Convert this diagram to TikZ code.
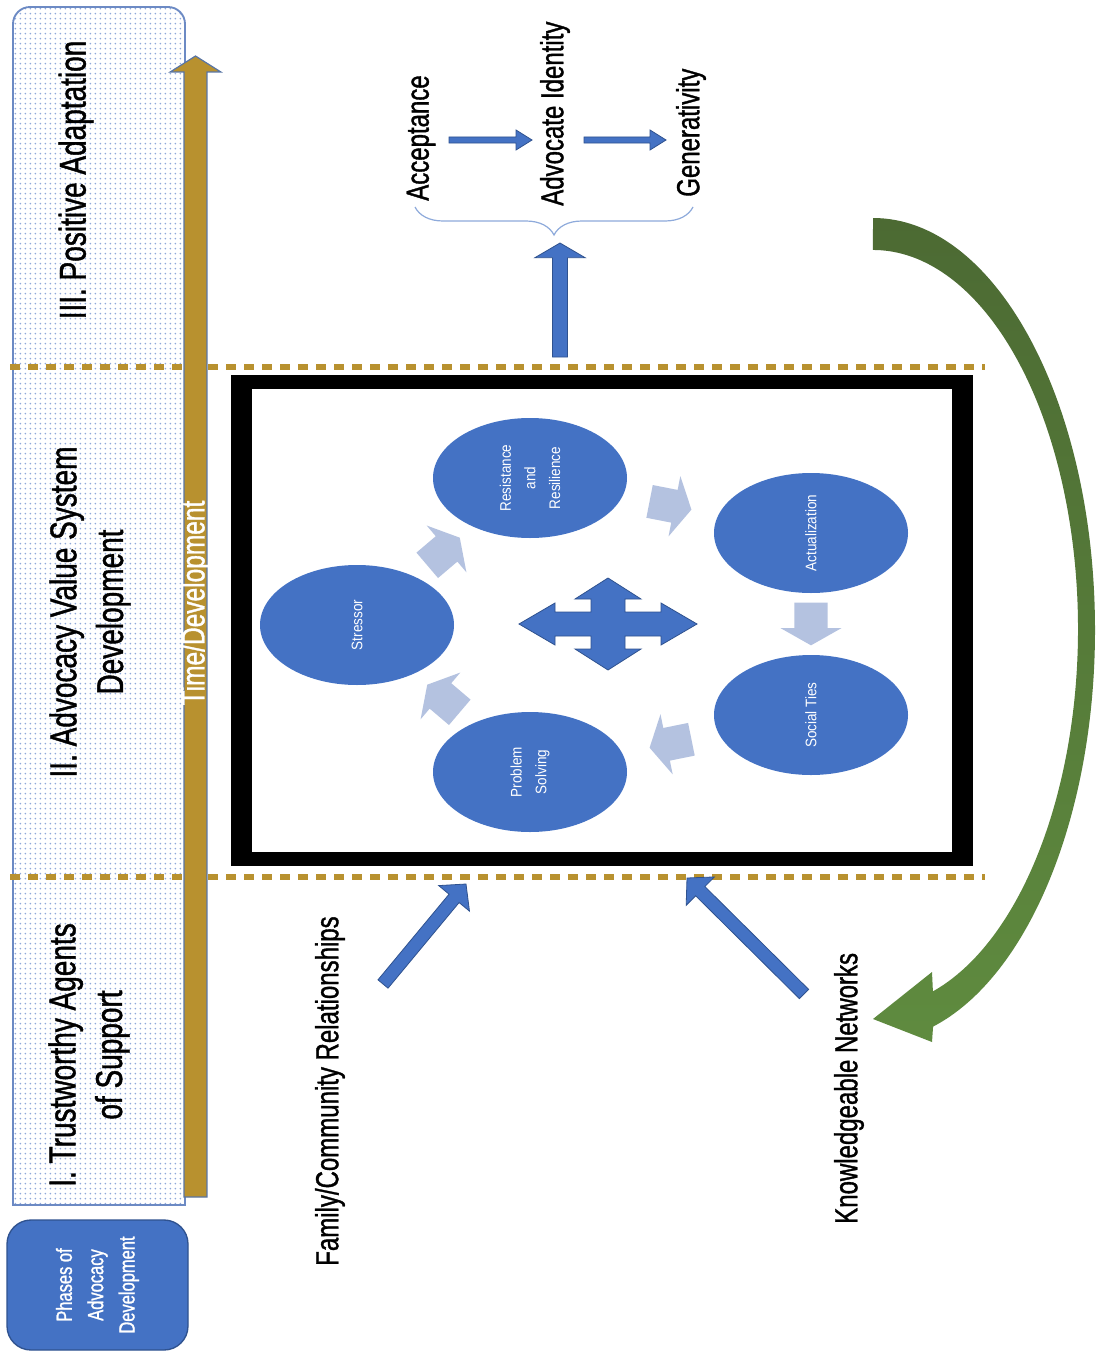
\documentclass[tikz,border=0pt]{standalone}
\usepackage{fontspec}
\setmainfont{Liberation Sans}
\newfontfamily\condfont[FakeStretch=0.75, FakeBold=1.1]{Liberation Sans}
\newfontfamily\cyclefont[FakeStretch=0.88]{Liberation Sans}
\usetikzlibrary{arrows.meta, shapes.geometric, calc, decorations.pathreplacing, patterns.meta}

\definecolor{nodeblue}{HTML}{4472C4}
\definecolor{edgeblue}{HTML}{2F528F}
\definecolor{paleblue}{HTML}{B4C2E0}
\definecolor{gold}{HTML}{B8912F}
\definecolor{darkgreen}{HTML}{4C6A33}
\definecolor{lightgreen}{HTML}{5F8B3F}
\definecolor{colborder}{HTML}{6C8AC4}
\definecolor{dotblue}{HTML}{8FA8DA}
\definecolor{bracecol}{HTML}{8EAADB}

% block arrow: [style]{tail}{tip}{shaft half}{head half}{head length}
\newcommand{\blockarrow}[6][]{%
  \coordinate (ba_h) at ($(#3)!#6!(#2)$);
  \path[#1] ($(#2)!#4!90:(#3)$) -- ($(ba_h)!#4!90:(#3)$) -- ($(ba_h)!#5!90:(#3)$) -- (#3)
    -- ($(ba_h)!#5!-90:(#3)$) -- ($(ba_h)!#4!-90:(#3)$) -- ($(#2)!#4!-90:(#3)$) -- cycle;}
% pale arrow half way between two stages
\newcommand{\cyclearrow}[2]{%
  \coordinate (cyc_m) at ($(#1)!0.5!(#2)$);
  \coordinate (cyc_a) at ($(cyc_m)!16pt!(#1)$);
  \coordinate (cyc_b) at ($(cyc_m)!16pt!(#2)$);
  \blockarrow[cyc]{cyc_a}{cyc_b}{12.5pt}{23pt}{13pt}}

\tikzset{
  phase/.style={rotate=90, align=center, inner sep=0pt, font=\condfont\fontsize{28}{35}\selectfont},
  sidelabel/.style={rotate=90, anchor=west, inner sep=0pt, font=\condfont\fontsize{24}{28}\selectfont},
  stage/.style={ellipse, rotate=90, fill=nodeblue, text=white, minimum width=90pt, minimum height=145.5pt,
    inner sep=0pt, align=center, font=\cyclefont\fontsize{11.5}{18.5}\selectfont},
  phasebox/.style={rectangle, rounded corners=18pt, rotate=90, fill=nodeblue, draw=edgeblue, line width=1pt,
    minimum width=97.5pt, minimum height=135.75pt, text=white, align=center,
    font=\condfont\fontsize{16.5}{23.5}\selectfont},
  cyc/.style={fill=paleblue},
  barrow/.style={fill=nodeblue, draw=edgeblue, line width=0.6pt, line join=miter},
  goldarrow/.style={fill=gold, draw=edgeblue!80, line width=0.9pt, line join=miter},
  goldline/.style={draw=gold, line width=3.8pt, dash pattern=on 7.5pt off 6pt},
}

\begin{document}
\begin{tikzpicture}[x=0.75pt, y=-0.75pt]
\fill[white] (0,0) rectangle (1097,1352);
\useasboundingbox (0,0) rectangle (1097,1352);
%% phase column
\fill[white] (13,1205) -- (13,24) arc[start angle=180, end angle=270, radius=17] -- (168,7)
  arc[start angle=270, end angle=360, radius=17] -- (185,1205) -- cycle;
\path[pattern={Dots[distance=4pt, radius=0.75pt]}, pattern color=dotblue, draw=colborder, line width=1.4pt]
  (13,1205) -- (13,24) arc[start angle=180, end angle=270, radius=17] -- (168,7)
  arc[start angle=270, end angle=360, radius=17] -- (185,1205) -- cycle;
\node[phase] (phase_3) at (76,180) {III. Positive Adaptation};
\node[phase] (phase_2) at (90,612) {II. Advocacy Value System\\Development};
\node[phase] (phase_1) at (89,1055) {I. Trustworthy Agents\\of Support};
\node[phasebox] (legend) at (97.5,1285) {Phases of\\Advocacy\\Development};
%% phase borders
\coordinate (upper_l) at (10,367);
\coordinate (upper_r) at (985,367);
\coordinate (lower_l) at (10,877);
\coordinate (lower_r) at (985,877);
\draw[goldline] (upper_l) -- (upper_r);
\draw[goldline] (lower_l) -- (lower_r);
%% time axis
\coordinate (time_start) at (195.5,1197);
\coordinate (time_end) at (195.5,56);
\blockarrow[goldarrow]{time_start}{time_end}{8.6pt}{19pt}{12pt}
\node[rotate=90, text=white, inner sep=0pt, font=\condfont\fontsize{24.5}{26}\selectfont] (timelabel) at (196,603) {Time/Development};
%% frame
\fill[black] (231,375) rectangle (973,866);
\fill[white] (252,389) rectangle (952,852);
%% stages
\node[stage] (stressor) at (357,625) {Stressor};
\node[stage] (resil) at (530,478) {Resistance\\and\\Resilience};
\node[stage] (actual) at (811,533) {Actualization};
\node[stage] (social) at (811,715) {Social Ties};
\node[stage] (problem) at (530,772) {Problem\\Solving};
\cyclearrow{stressor}{resil}
\cyclearrow{resil}{actual}
\cyclearrow{actual}{social}
\cyclearrow{social}{problem}
\cyclearrow{problem}{stressor}
\coordinate (hub) at (608,624);
\filldraw[barrow, shift={(hub)}] (-89,0) -- (-53,-21) -- (-53,-12) -- (-17,-12) -- (-17,-25) -- (-33,-25)
  -- (0,-46) -- (33,-25) -- (17,-25) -- (17,-12) -- (53,-12) -- (53,-21) -- (89,0) -- (53,21) -- (53,12)
  -- (17,12) -- (17,25) -- (33,25) -- (0,46) -- (-33,25) -- (-17,25) -- (-17,12) -- (-53,12) -- (-53,21) -- cycle;
%% outcomes
\node[sidelabel] (accept) at (421,201) {Acceptance};
\node[sidelabel] (identity) at (555,206) {Advocate Identity};
\node[sidelabel] (genera) at (691,197) {Generativity};
\coordinate (acc_out) at (449,140);
\coordinate (adv_in) at (532,140);
\coordinate (adv_out) at (584,140);
\coordinate (gen_in) at (666,140);
\blockarrow[barrow]{acc_out}{adv_in}{2.3pt}{7.5pt}{12pt}
\blockarrow[barrow]{adv_out}{gen_in}{2.3pt}{7.5pt}{12pt}
\draw[bracecol, line width=0.9pt, decorate, decoration={brace, amplitude=21pt}] (693,207) -- (415,207);
\coordinate (up_tail) at (560,357);
\coordinate (up_tip) at (560,243);
\blockarrow[barrow]{up_tail}{up_tip}{5.6pt}{18.8pt}{11pt}
%% inputs
\node[sidelabel] (family) at (330,1266) {Family/Community Relationships};
\node[sidelabel] (networks) at (849,1224) {Knowledgeable Networks};
\coordinate (fam_tail) at (383,984);
\coordinate (fam_tip) at (466,884);
\coordinate (know_tail) at (804,994);
\coordinate (know_tip) at (687,878);
\blockarrow[barrow]{fam_tail}{fam_tip}{4.9pt}{15pt}{14pt}
\blockarrow[barrow]{know_tail}{know_tip}{4.9pt}{15pt}{14pt}
%% feedback
\shade[top color=darkgreen, bottom color=lightgreen]
  (873,218) arc[start angle=-90, end angle=74.3, x radius=222, y radius=412]
  -- (932,1042) -- (873,1019) -- (932,972) -- (932.9,991.4)
  arc[start angle=73, end angle=-90, x radius=205, y radius=379] -- cycle;
%
\end{tikzpicture}
\end{document}
